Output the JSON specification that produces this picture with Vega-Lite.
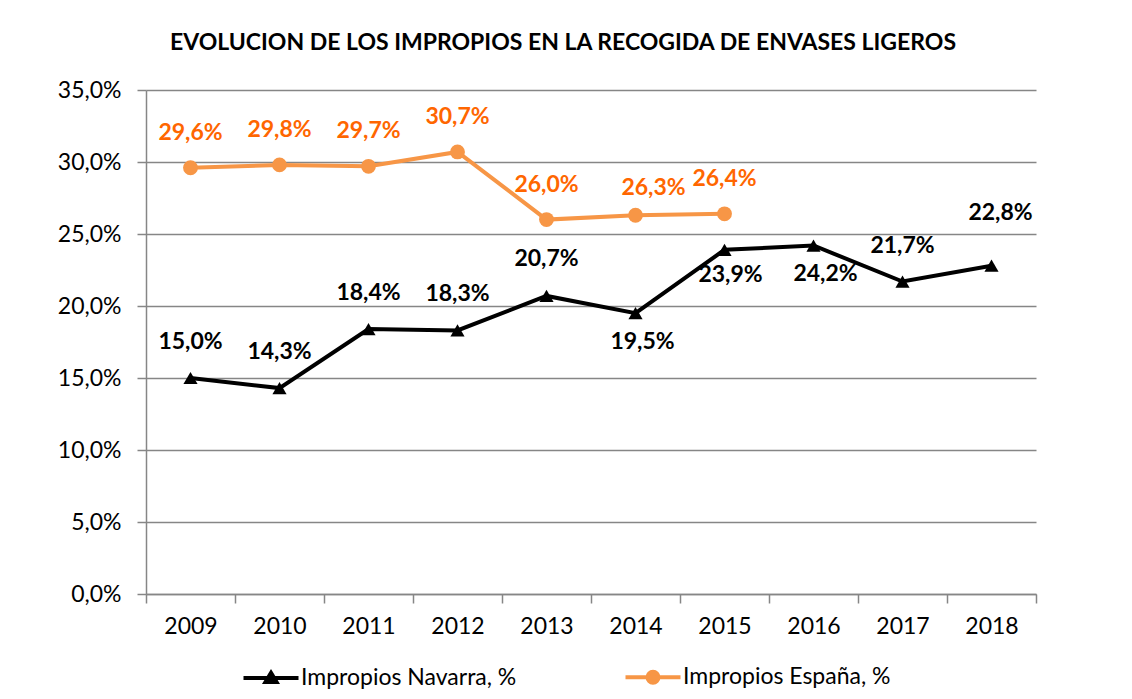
{
  "$schema": "https://vega.github.io/schema/vega-lite/v6.json",
  "width": 890,
  "height": 504,
  "autosize": {"type": "none"},
  "padding": {"left": 146, "top": 90, "right": 96, "bottom": 105},
  "background": "white",
  "config": {
    "locale": {"number": {"decimal": ",", "thousands": ".", "grouping": [3], "currency": ["", " €"]}},
    "font": "Lato",
    "view": {"stroke": null}
  },
  "title": {
    "text": "EVOLUCION DE LOS IMPROPIOS EN LA RECOGIDA DE ENVASES LIGEROS",
    "font": "Lato",
    "fontSize": 23,
    "fontWeight": "bold",
    "color": "#000000",
    "anchor": "middle",
    "dx": -28,
    "offset": 24
  },
  "data": {
    "values": [
      {"year": "2009", "series": "Impropios Navarra, %", "value": 0.150},
      {"year": "2010", "series": "Impropios Navarra, %", "value": 0.143},
      {"year": "2011", "series": "Impropios Navarra, %", "value": 0.184},
      {"year": "2012", "series": "Impropios Navarra, %", "value": 0.183},
      {"year": "2013", "series": "Impropios Navarra, %", "value": 0.207},
      {"year": "2014", "series": "Impropios Navarra, %", "value": 0.195},
      {"year": "2015", "series": "Impropios Navarra, %", "value": 0.239},
      {"year": "2016", "series": "Impropios Navarra, %", "value": 0.242},
      {"year": "2017", "series": "Impropios Navarra, %", "value": 0.217},
      {"year": "2018", "series": "Impropios Navarra, %", "value": 0.228},
      {"year": "2009", "series": "Impropios España, %", "value": 0.296},
      {"year": "2010", "series": "Impropios España, %", "value": 0.298},
      {"year": "2011", "series": "Impropios España, %", "value": 0.297},
      {"year": "2012", "series": "Impropios España, %", "value": 0.307},
      {"year": "2013", "series": "Impropios España, %", "value": 0.260},
      {"year": "2014", "series": "Impropios España, %", "value": 0.263},
      {"year": "2015", "series": "Impropios España, %", "value": 0.264}
    ]
  },
  "encoding": {
    "x": {
      "field": "year",
      "type": "ordinal",
      "bandPosition": 0.5,
      "scale": {"type": "band", "paddingInner": 0, "paddingOuter": 0},
      "axis": {
        "title": null,
        "labelAngle": 0,
        "tickBand": "extent",
        "grid": false,
        "domainColor": "#868686",
        "domainWidth": 1.5,
        "tickColor": "#868686",
        "tickWidth": 1.5,
        "tickSize": 9,
        "labelFont": "Lato",
        "labelFontSize": 23,
        "labelColor": "#000000",
        "labelPadding": 12
      }
    },
    "y": {
      "field": "value",
      "type": "quantitative",
      "scale": {"domain": [0, 0.35], "nice": false},
      "axis": {
        "title": null,
        "values": [0, 0.05, 0.1, 0.15, 0.2, 0.25, 0.3, 0.35],
        "format": ".1%",
        "grid": true,
        "gridColor": "#868686",
        "gridWidth": 1.5,
        "domainColor": "#868686",
        "domainWidth": 1.5,
        "tickColor": "#868686",
        "tickWidth": 1.5,
        "tickSize": 9,
        "labelFont": "Lato",
        "labelFontSize": 23,
        "labelColor": "#000000",
        "labelPadding": 16
      }
    }
  },
  "layer": [
    {
      "transform": [{"filter": "datum.series === 'Impropios España, %'"}],
      "mark": {"type": "line", "color": "#F79646", "strokeWidth": 4}
    },
    {
      "transform": [{"filter": "datum.series === 'Impropios España, %'"}],
      "mark": {"type": "point", "shape": "circle", "filled": true, "color": "#F79646", "opacity": 1, "size": 220}
    },
    {
      "transform": [{"filter": "datum.series === 'Impropios Navarra, %'"}],
      "mark": {"type": "line", "color": "#000000", "strokeWidth": 4}
    },
    {
      "transform": [{"filter": "datum.series === 'Impropios Navarra, %'"}],
      "mark": {"type": "point", "shape": "triangle-up", "filled": true, "color": "#000000", "opacity": 1, "size": 200}
    },
    {
      "transform": [{"filter": "datum.series === 'Impropios España, %' && datum.year !== '2014'"}],
      "mark": {"type": "text", "fontWeight": "bold", "fontSize": 23, "color": "#FF6600", "dy": -35},
      "encoding": {"text": {"field": "value", "type": "quantitative", "format": ".1%"}}
    },
    {
      "transform": [{"filter": "datum.series === 'Impropios España, %' && datum.year === '2014'"}],
      "mark": {"type": "text", "fontWeight": "bold", "fontSize": 23, "color": "#FF6600", "dy": -27, "dx": 18},
      "encoding": {"text": {"field": "value", "type": "quantitative", "format": ".1%"}}
    },
    {
      "transform": [{"filter": "datum.series === 'Impropios Navarra, %' && indexof(['2009','2010','2011','2012','2017'], datum.year) >= 0"}],
      "mark": {"type": "text", "fontWeight": "bold", "fontSize": 23, "color": "#000000", "dy": -36},
      "encoding": {"text": {"field": "value", "type": "quantitative", "format": ".1%"}}
    },
    {
      "transform": [{"filter": "datum.series === 'Impropios Navarra, %' && datum.year === '2013'"}],
      "mark": {"type": "text", "fontWeight": "bold", "fontSize": 23, "color": "#000000", "dy": -37},
      "encoding": {"text": {"field": "value", "type": "quantitative", "format": ".1%"}}
    },
    {
      "transform": [{"filter": "datum.series === 'Impropios Navarra, %' && datum.year === '2018'"}],
      "mark": {"type": "text", "fontWeight": "bold", "fontSize": 23, "color": "#000000", "dy": -53, "dx": 9},
      "encoding": {"text": {"field": "value", "type": "quantitative", "format": ".1%"}}
    },
    {
      "transform": [{"filter": "datum.series === 'Impropios Navarra, %' && datum.year === '2014'"}],
      "mark": {"type": "text", "fontWeight": "bold", "fontSize": 23, "color": "#000000", "dy": 29, "dx": 7},
      "encoding": {"text": {"field": "value", "type": "quantitative", "format": ".1%"}}
    },
    {
      "transform": [{"filter": "datum.series === 'Impropios Navarra, %' && datum.year === '2015'"}],
      "mark": {"type": "text", "fontWeight": "bold", "fontSize": 23, "color": "#000000", "dy": 25, "dx": 6},
      "encoding": {"text": {"field": "value", "type": "quantitative", "format": ".1%"}}
    },
    {
      "transform": [{"filter": "datum.series === 'Impropios Navarra, %' && datum.year === '2016'"}],
      "mark": {"type": "text", "fontWeight": "bold", "fontSize": 23, "color": "#000000", "dy": 28, "dx": 12},
      "encoding": {"text": {"field": "value", "type": "quantitative", "format": ".1%"}}
    },
    {
      "transform": [{"filter": "false"}],
      "mark": {"type": "point", "filled": true, "opacity": 1, "strokeWidth": 4},
      "encoding": {
        "fill": {
          "field": "series",
          "type": "nominal",
          "scale": {"domain": ["Impropios Navarra, %", "Impropios España, %"], "range": ["#000000", "#F79646"]},
          "legend": {
            "title": null,
            "orient": "none",
            "direction": "horizontal",
            "legendX": 113,
            "legendY": 575,
            "columns": 2,
            "columnPadding": 100,
            "labelFont": "Lato",
            "labelFontSize": 23,
            "labelColor": "#000000",
            "labelLimit": 400,
            "labelOffset": 18,
            "symbolSize": 400,
            "symbolStrokeWidth": 4,
            "symbolOffset": 0
          }
        },
        "stroke": {
          "field": "series",
          "type": "nominal",
          "scale": {"domain": ["Impropios Navarra, %", "Impropios España, %"], "range": ["#000000", "#F79646"]}
        },
        "shape": {
          "field": "series",
          "type": "nominal",
          "scale": {
            "domain": ["Impropios Navarra, %", "Impropios España, %"],
            "range": [
              "M-2.75,0H2.75M0,-0.5L0.55,0.42H-0.55Z",
              "M-2.75,0H2.75M0.55,0A0.55,0.55 0 1,1 -0.55,0A0.55,0.55 0 1,1 0.55,0Z"
            ]
          }
        }
      }
    }
  ]
}
